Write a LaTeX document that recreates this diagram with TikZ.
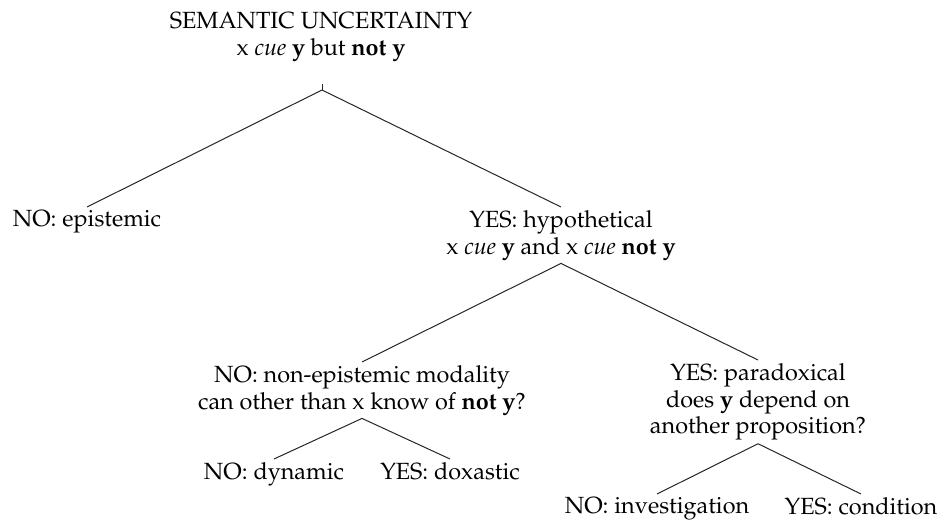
\documentclass[tikz,border=0pt]{standalone}
\usepackage[T1]{fontenc}
\usepackage{mathpazo}
\usepackage{tikz}
\usetikzlibrary{positioning}

\begin{document}
\begin{tikzpicture}[
  x=0.5pt, y=-0.5pt,
  leaf/.style={align=center, anchor=north, inner sep=1.5pt, font=\fontsize{11.7}{13.35}\selectfont},
  branch/.style={draw=black!85, line width=0.5pt}
]
\useasboundingbox (0,0) rectangle (941,523);
\node[leaf] (root) at (321,9) {SEMANTIC UNCERTAINTY\\x \textit{cue} \textbf{y} but \textbf{not y}};
\coordinate (stem) at (322,84);
\coordinate (fork) at (322,90);
\node[leaf] (epist) at (87,207) {NO: epistemic};
\node[leaf] (hypo) at (561,207) {YES: hypothetical\\x \textit{cue} \textbf{y} and x \textit{cue} \textbf{not y}};
\node[leaf] (nonep) at (362,362) {NO: non-epistemic modality\\can other than x know of \textbf{not y}?};
\node[leaf] (parad) at (758,360) {YES: paradoxical\\does \textbf{y} depend on\\another proposition?};
\node[leaf] (dyn) at (274,459) {NO: dynamic};
\node[leaf] (dox) at (450,459) {YES: doxastic};
\node[leaf] (invest) at (657,494) {NO: investigation};
\node[leaf] (cond) at (861,494) {YES: condition};
% tree edges
\draw[branch] (stem) -- (fork);
\draw[branch] (fork) -- (epist.north);
\draw[branch] (fork) -- (hypo.north);
\draw[branch] (hypo.south) -- (nonep.north);
\draw[branch] (hypo.south) -- (parad.north);
\draw[branch] (nonep.south) -- (dyn.north);
\draw[branch] (nonep.south) -- (dox.north);
\draw[branch] (parad.south) -- (invest.north);
\draw[branch] (parad.south) -- (cond.north);
\end{tikzpicture}
\end{document}
